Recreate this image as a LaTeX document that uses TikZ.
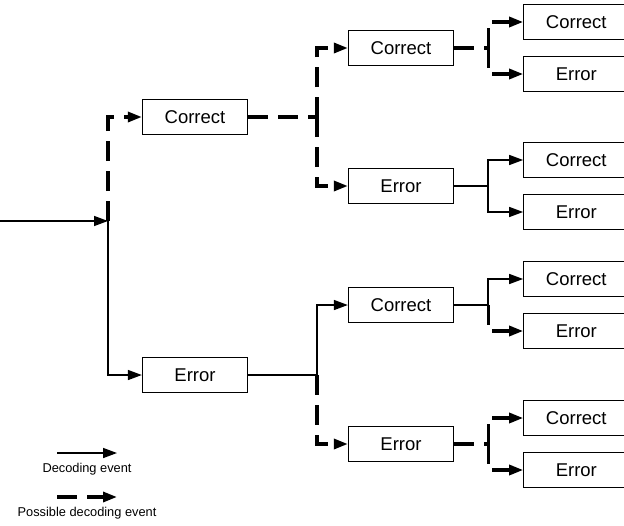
\documentclass[tikz,border=0pt]{standalone}
\usepackage{fontspec}
\setmainfont{Liberation Sans}
\usetikzlibrary{arrows.meta, positioning}

\tikzset{
  outcome/.style={draw, line width=1.3pt, minimum width=105pt, minimum height=35pt,
                  inner sep=0pt, font=\fontsize{18.5}{20}\selectfont},
  decided/.style={line width=1.5pt},
  possible/.style={line width=3.2pt, dash pattern=on 20pt off 10pt},
  arrowed/.style={-{Triangle[length=14pt, width=10pt]}},
  legendtext/.style={font=\fontsize{12.8}{14}\selectfont, inner sep=0pt}
}

\begin{document}
\begin{tikzpicture}[x=1pt, y=-1pt]
\useasboundingbox (0,0) rectangle (624,525);

% ---- first decision
\coordinate (in) at (0,221);
\coordinate (root) at (108,221);
\node[outcome] (c) at (195,117) {Correct};
\node[outcome] (e) at (195,375) {Error};
\draw[decided, arrowed] (in) -- (root);
\draw[possible, arrowed] (root) |- (c.west);
\draw[decided, arrowed] (root) |- (e.west);

% ---- second decision
\node[outcome] (cc) at (401,48) {Correct};
\node[outcome] (ce) at (401,186) {Error};
\node[outcome] (ec) at (401,305) {Correct};
\node[outcome] (ee) at (401,444) {Error};
\coordinate (cj) at (317,117);
\coordinate (ej) at (317,375);
\draw[possible] (c.east) -- (cj);
\draw[possible, arrowed] (cj) |- (cc.west);
\draw[possible, arrowed] (cj) |- (ce.west);
\draw[decided] (e.east) -- (ej);
\draw[decided, arrowed] (ej) |- (ec.west);
\draw[possible, arrowed] (ej) |- (ee.west);

% ---- third decision
\foreach \p/\link/\up/\dn in {cc/possible/possible/possible, ce/decided/decided/decided,
                              ec/decided/decided/possible, ee/possible/possible/possible} {
  \node[outcome, anchor=west] (\p c) at ([xshift=69pt, yshift=26pt]\p.east) {Correct};
  \node[outcome, anchor=west] (\p e) at ([xshift=69pt, yshift=-26pt]\p.east) {Error};
  \coordinate (\p j) at ([xshift=34pt]\p.east);
  \draw[\link] (\p.east) -- (\p j);
  \draw[\up, arrowed] (\p j) |- (\p c.west);
  \draw[\dn, arrowed] (\p j) |- (\p e.west);
}

% ---- legend
\coordinate (lgA) at (57,453);
\coordinate (lgB) at (117,453);
\coordinate (lgC) at (57,497);
\coordinate (lgD) at (117,497);
\draw[decided, arrowed] (lgA) -- (lgB);
\node[legendtext] (lgsolid) at (87,469) {Decoding event};
\draw[possible, arrowed] (lgC) -- (lgD);
\node[legendtext] (lgdash) at (87,513) {Possible decoding event};

\end{tikzpicture}
\end{document}
